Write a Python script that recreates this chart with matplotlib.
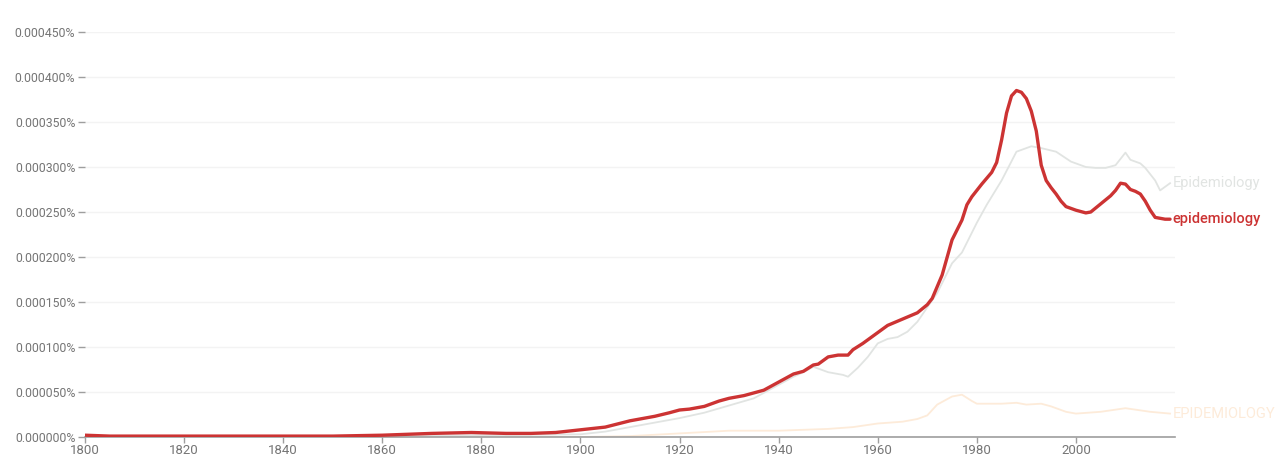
import matplotlib
matplotlib.use("Agg")
import matplotlib.pyplot as plt
from matplotlib.ticker import FuncFormatter

# values in units of 1e-6 percent (i.e. 0.000001%)
years_lower = [1800, 1805, 1810, 1820, 1830, 1840, 1850, 1860, 1865, 1870, 1878, 1885,
               1890, 1895, 1900, 1905, 1910, 1913, 1915, 1918, 1920, 1922, 1925, 1928,
               1930, 1933, 1935, 1937, 1940, 1943, 1945, 1947, 1948, 1950, 1952, 1954,
               1955, 1957, 1960, 1962, 1965, 1968, 1970, 1971, 1973, 1975, 1977, 1978,
               1979, 1980, 1981, 1983, 1984, 1985, 1986, 1987, 1988, 1989, 1990, 1991,
               1992, 1993, 1994, 1995, 1996, 1997, 1998, 2000, 2002, 2003, 2005, 2007,
               2008, 2009, 2010, 2011, 2012, 2013, 2014, 2015, 2016, 2017, 2018, 2019]
lower = [2, 1, 1, 1, 1, 1, 1, 2, 3, 4, 5, 4,
         4, 5, 8, 11, 18, 21, 23, 27, 30, 31, 34, 40,
         43, 46, 49, 52, 61, 70, 73, 80, 81, 89, 91, 91,
         97, 104, 116, 124, 131, 138, 147, 154, 180, 219, 241, 258,
         267, 274, 281, 294, 305, 330, 360, 379, 385, 383, 376, 362,
         340, 302, 285, 277, 270, 262, 256, 252, 249, 250, 259, 268,
         274, 282, 281, 275, 273, 270, 262, 252, 244, 243, 242, 242]

years_title = [1800, 1850, 1880, 1900, 1905, 1910, 1915, 1920, 1925, 1930, 1935, 1940,
               1943, 1945, 1947, 1950, 1953, 1954, 1956, 1958, 1960, 1962, 1964, 1966,
               1968, 1970, 1972, 1975, 1977, 1980, 1982, 1985, 1988, 1991, 1993, 1996,
               1999, 2002, 2004, 2006, 2008, 2010, 2011, 2013, 2014, 2016, 2017, 2019]
title = [1, 1, 2, 3, 6, 11, 16, 21, 27, 35, 43, 58,
         67, 72, 78, 72, 69, 67, 77, 89, 104, 109, 111, 117,
         128, 144, 160, 193, 205, 238, 258, 285, 317, 323, 321, 317,
         306, 300, 299, 299, 302, 316, 308, 304, 299, 285, 274, 282]

years_upper = [1800, 1900, 1910, 1920, 1930, 1940, 1950, 1955, 1960, 1965, 1968, 1970,
               1972, 1975, 1977, 1979, 1980, 1985, 1988, 1990, 1993, 1995, 1998, 2000,
               2005, 2010, 2015, 2019]
upper = [0, 0, 1, 4, 7, 7, 9, 11, 15, 17, 20, 24,
         36, 45, 47, 40, 37, 37, 38, 36, 37, 34, 28, 26,
         28, 32, 28, 26]

red = "#cc3333"
grey_line = "#e1e4e2"
orange_line = "#fdebd9"
text_col = "#757575"

plt.rcParams["font.family"] = ["Roboto", "DejaVu Sans"]

fig = plt.figure(figsize=(12.8, 4.63), dpi=100)
ax = fig.add_axes([85 / 1280, 1 - 437 / 463, (1175 - 85) / 1280, (437 - 32) / 463])

scale = 1e-6
ax.plot(years_upper, [v * scale for v in upper], color=orange_line, lw=1.3, zorder=2)
ax.plot(years_title, [v * scale for v in title], color=grey_line, lw=1.3, zorder=2)
ax.plot(years_lower, [v * scale for v in lower], color=red, lw=2.4, zorder=3,
        solid_capstyle="round", solid_joinstyle="round")

ax.set_xlim(1800, 2020)
ax.set_ylim(0, 0.00045)
ax.set_yticks([i * 0.00005 for i in range(10)])
ax.yaxis.set_major_formatter(FuncFormatter(lambda v, p: f"{v:.6f}%"))
ax.set_xticks(range(1800, 2001, 20))

ax.grid(axis="y", color="#f3f3f3", lw=1)
ax.set_axisbelow(True)
for s in ["top", "right", "left"]:
    ax.spines[s].set_visible(False)
ax.spines["bottom"].set_color("#9e9e9e")
ax.spines["bottom"].set_linewidth(1.2)
ax.tick_params(axis="y", length=5, width=1, color="#9e9e9e", pad=2,
               labelsize=8.8, labelcolor=text_col)
ax.tick_params(axis="x", length=4, width=1, color="#9e9e9e", pad=1,
               labelsize=9.5, labelcolor=text_col)

ax.text(2019.5, title[-1] * scale, "Epidemiology", color=grey_line, fontsize=10.5,
        va="center", ha="left", clip_on=False)
ax.text(2019.5, lower[-1] * scale, "epidemiology", color=red, fontsize=10.5,
        va="center", ha="left", clip_on=False, fontweight="medium")
ax.text(2019.5, upper[-1] * scale, "EPIDEMIOLOGY", color=orange_line, fontsize=10.5,
        va="center", ha="left", clip_on=False)

fig.savefig("out.png", dpi=100)
